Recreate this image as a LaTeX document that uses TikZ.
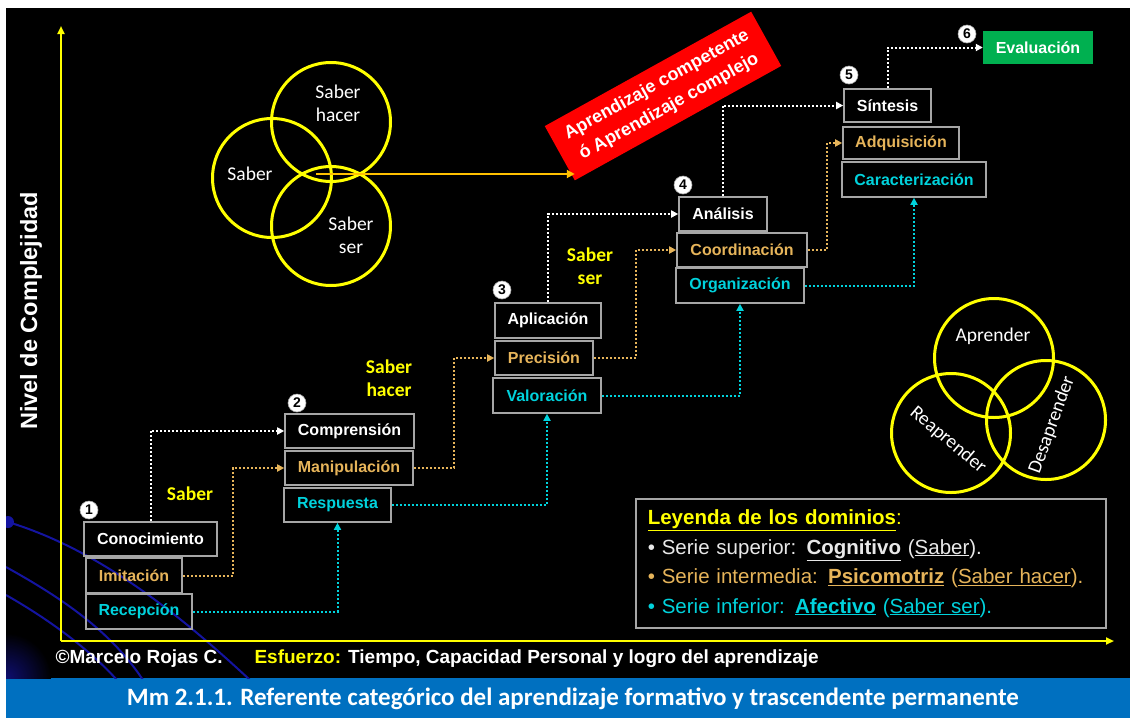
\documentclass[tikz,border=0pt]{standalone}
\usepackage{fontspec}
\setmainfont{Liberation Sans}
\newfontfamily\calibri{Carlito}
\usetikzlibrary{arrows.meta, positioning, calc}
\definecolor{nightblue}{HTML}{1414A0}
\definecolor{barblue}{HTML}{0070C0}
\definecolor{venngold}{HTML}{FFFF00}
\definecolor{ambar}{HTML}{FFC000}
\definecolor{psicogold}{HTML}{E6B45A}
\definecolor{afectcyan}{HTML}{00D2DC}
\definecolor{boxgray}{HTML}{A6A6A6}
\definecolor{evalgreen}{HTML}{00B050}
\definecolor{bannerred}{HTML}{FF0000}
\definecolor{cogwhite}{HTML}{E8E8E8}
\newcommand{\subraya}[1]{\underline{#1}}

\tikzset{
  stepbox/.style={draw=boxgray, line width=1.6pt, inner sep=0pt, minimum height=34pt,
    font=\fontsize{16}{16}\selectfont\bfseries},
  cogbox/.style={stepbox, text=white},
  psibox/.style={stepbox, text=psicogold},
  afebox/.style={stepbox, text=afectcyan},
  numdot/.style={circle, fill=white, draw=boxgray, line width=0.6pt, inner sep=0pt,
    minimum size=18pt, text=black, font=\fontsize{14}{14}\selectfont\bfseries},
  dotline/.style={line width=2pt, dash pattern=on 2pt off 2pt, -{Triangle[length=7pt,width=7pt]}},
  cogline/.style={dotline, white},
  psiline/.style={dotline, psicogold},
  afeline/.style={dotline, afectcyan},
  vennring/.style={circle, draw=venngold, line width=3pt, minimum size=119pt, inner sep=0pt},
  vennlabel/.style={white, align=center, font=\calibri\fontsize{19.5}{23}\selectfont},
  saberlabel/.style={venngold, align=center, font=\calibri\bfseries\fontsize{19.5}{23.5}\selectfont},
}

\begin{document}
\begin{tikzpicture}[x=1pt, y=-1pt]
  \useasboundingbox (0,0) rectangle (1130,718);
  % Background
  \fill[white] (0,0) rectangle (1130,718);
  \fill[black] (6,8) rectangle (1130,678);
  \fill[barblue] (6,678) rectangle (1130,718);

  % Decorative blue curves bottom left
  \begin{scope}
    \clip (6,8) rectangle (1130,678);
    \shade[inner color=nightblue!70!black, outer color=black] (6,678) circle (45pt);
    \fill[nightblue] (8,522) circle (6pt);
    \draw[nightblue, line width=2pt] (8,522) .. controls (100,550) and (180,615) .. (250,680);
    \draw[nightblue, line width=2pt] (6,567) .. controls (60,597) and (110,630) .. (143,680);
    \draw[nightblue, line width=2pt] (6,595) .. controls (50,620) and (90,650) .. (117,680);
  \end{scope}

  % Axes
  \coordinate (origen) at (61,641);
  \coordinate (ytop) at (61,26);
  \coordinate (xend) at (1114,641);
  \draw[venngold, line width=2.2pt, -{Triangle[length=8pt,width=7pt]}] (origen) -- (ytop);
  \draw[venngold, line width=2.2pt, -{Triangle[length=8pt,width=7pt]}] (origen) -- (xend);
  \node[white, rotate=90, font=\fontsize{23.5}{23.5}\selectfont\bfseries] (ylabel) at (31,311) {Nivel de Complejidad};

  % Venn: saber
  \node[vennring] (vsaber) at (272,178) {};
  \node[vennring] (vhacer) at (331,122) {};
  \node[vennring] (vser) at (331,226) {};
  \node[vennlabel] (tsaber) at (250,174) {Saber};
  \node[vennlabel] (thacer) at (338,103) {Saber\\hacer};
  \node[vennlabel] (tser) at (351,235) {Saber\\ser};

  % Banner
  \node[fill=bannerred, text=white, rotate=29, minimum width=236pt, minimum height=62pt, inner sep=0pt,
    align=center, font=\fontsize{18}{25}\selectfont\bfseries] (banner) at (663,96)
    {Aprendizaje competente\\ó Aprendizaje complejo};
  \coordinate (vennhub) at (316,174);
  \draw[ambar, line width=2pt, -{Triangle[length=8pt,width=8pt]}] (vennhub) -- (vennhub -| banner.south west);

  % Stage 1
  \node[cogbox, minimum width=133pt] (conoc) at (150.5,539) {Conocimiento};
  \node[psibox, minimum width=96pt, minimum height=35pt] (imit) at (134,575.5) {Imitación};
  \node[afebox, minimum width=106pt, minimum height=35pt] (recep) at (139,611.5) {Recepción};
  \node[numdot] (n1) at (89,510) {1};
  % Stage 2
  \node[cogbox, minimum width=129pt] (compr) at (349.5,431) {Comprensión};
  \node[psibox, minimum width=128pt] (manip) at (349,468) {Manipulación};
  \node[afebox, minimum width=107pt] (resp) at (337.5,505) {Respuesta};
  \node[numdot] (n2) at (297,403) {2};
  % Stage 3
  \node[cogbox, minimum width=106pt, minimum height=35pt] (aplic) at (548,320.5) {Aplicación};
  \node[psibox, minimum width=98pt] (precis) at (544,358) {Precisión};
  \node[afebox, minimum width=108pt, minimum height=35pt] (valor) at (547,395.5) {Valoración};
  \node[numdot] (n3) at (502,290) {3};
  % Stage 4
  \node[cogbox, minimum width=88pt] (anal) at (723,214) {Análisis};
  \node[psibox, minimum width=130pt] (coord) at (742,250) {Coordinación};
  \node[afebox, minimum width=128pt, minimum height=35pt] (organ) at (740,285.5) {Organización};
  \node[numdot] (n4) at (683,185) {4};
  % Stage 5
  \node[cogbox, minimum width=87pt, minimum height=33pt] (sintes) at (887.5,105.5) {Síntesis};
  \node[psibox, minimum width=116pt, minimum height=32pt] (adqui) at (901,143) {Adquisición};
  \node[afebox, minimum width=144pt, minimum height=35pt] (carac) at (914,179.5) {Caracterización};
  \node[numdot] (n5) at (849,75) {5};
  % Stage 6
  \node[fill=evalgreen, text=white, minimum width=110pt, minimum height=33pt, inner sep=0pt,
    font=\fontsize{16}{16}\selectfont\bfseries] (evalua) at (1038,47.5) {Evaluación};
  \node[numdot] (n6) at (967,34) {6};

  % Cognitive links
  \draw[cogline] (conoc.north) |- (compr.west);
  \draw[cogline] (aplic.north) |- (anal.west);
  \draw[cogline] (anal.north) |- (sintes.west);
  \draw[cogline] (sintes.north) |- (evalua.west);
  % Psychomotor links
  \draw[psiline] (imit.east) -- ([xshift=50pt]imit.east) |- (manip.west);
  \draw[psiline] (manip.east) -- ([xshift=40pt]manip.east) |- (precis.west);
  \draw[psiline] (precis.east) -- ([xshift=42pt]precis.east) |- (coord.west);
  \draw[psiline] (coord.east) -- ([xshift=19pt]coord.east) |- (adqui.west);
  % Affective links
  \draw[afeline] (recep.east) -| (resp.south);
  \draw[afeline] (resp.east) -| (valor.south);
  \draw[afeline] (valor.east) -| (organ.south);
  \draw[afeline] (organ.east) -| (carac.south);

  % Domain labels
  \node[saberlabel] (lsaber) at (190,494) {Saber};
  \node[saberlabel] (lhacer) at (389,378) {Saber\\hacer};
  \node[saberlabel] (lser) at (590,266) {Saber\\ser};

  % Venn: aprender
  \node[vennring] (vapr) at (994,358) {};
  \node[vennring] (vrea) at (951,433) {};
  \node[vennring] (vdes) at (1046,420) {};
  \node[vennlabel] (tapr) at (993,336) {Aprender};
  \node[vennlabel, rotate=-40] (trea) at (948,440) {Reaprender};
  \node[vennlabel, rotate=70] (tdes) at (1052,425) {Desaprender};

  % Legend
  \node[draw=boxgray, line width=1.6pt, anchor=west, text width=446pt, inner xsep=12pt, inner ysep=0pt,
    minimum height=129pt, align=left, font=\fontsize{20.5}{29.5}\selectfont] (leyenda) at (635,563.5)
    {{\color{venngold}\bfseries\subraya{Leyenda de los dominios}}{\color{venngold}:}\\
     {\color{cogwhite}• Serie superior: \textbf{\subraya{Cognitivo}} (\subraya{Saber}).}\\
     {\color{psicogold}• Serie intermedia: \textbf{\subraya{Psicomotriz}} (\subraya{Saber hacer}).}\\
     {\color{afectcyan}• Serie inferior: \textbf{\subraya{Afectivo}} (\subraya{Saber ser}).}};

  % Footer
  \node[white, anchor=west, font=\fontsize{19}{19}\selectfont\bfseries] (autor) at (52,659) {©Marcelo Rojas C.};
  \node[white, anchor=west, font=\fontsize{19}{19}\selectfont\bfseries] (esfuerzo) at (251,659)
    {{\color{venngold}Esfuerzo:} Tiempo, Capacidad Personal y logro del aprendizaje};
  \node[white, font=\calibri\bfseries\fontsize{25}{25}\selectfont] (titulo) at (573,699)
    {Mm 2.1.1. Referente categórico del aprendizaje formativo y trascendente permanente};
\end{tikzpicture}
\end{document}
